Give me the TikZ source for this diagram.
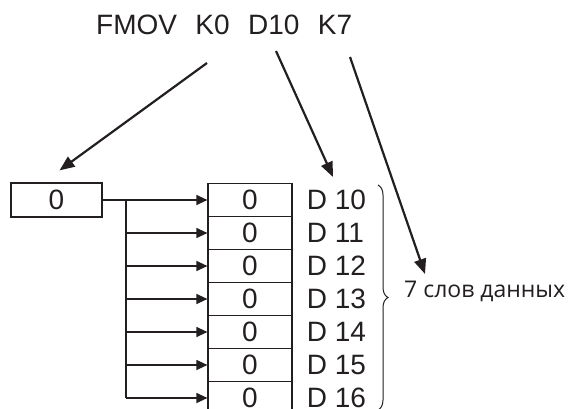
\documentclass[tikz,border=0pt]{standalone}
\usepackage{fontspec}
\setmainfont{Liberation Sans}
\newfontfamily\wordsfont{Open Sans}
\usetikzlibrary{positioning,calc,arrows.meta,decorations.pathreplacing}

\definecolor{ink}{HTML}{231F20}

\begin{document}
\begin{tikzpicture}[
  x=1pt, y=-1pt,
  every node/.style={text=ink, inner sep=0pt},
  big/.style={font=\fontsize{28}{28}\selectfont},
  cell/.style={draw=ink, line width=1.2pt, minimum width=84pt, minimum height=33pt, big},
  pointer/.style={draw=ink, line width=2.2pt, -{Triangle[length=15pt,width=12pt]}},
  feed/.style={draw=ink, line width=1.2pt, -{Triangle[length=11pt,width=10pt]}},
]
  \clip (0,0) rectangle (575,409);

  % instruction
  \node[big, anchor=west] (fmov) at (96,25) {FMOV};
  \node[big, right=18pt of fmov] (k0) {K0};
  \node[big, right=18pt of k0] (d10) {D10};
  \node[big, right=18pt of d10] (k7) {K7};

  % source word
  \node[cell, minimum width=91pt, minimum height=34pt] (src) at (56.5,200) {0};

  % destination words
  \foreach \i in {0,...,6} {
    \node[cell] (c\i) at (250,200+33*\i) {0};
    \node[big, right=14pt of c\i] (d\i) {D 1\i};
  }

  % distribution bus
  \coordinate (bus) at (126,200);
  \draw[ink, line width=1.2pt] (bus) -- (bus |- c6.west);
  \draw[feed] (src.east) -- (c0.west);
  \foreach \i in {1,...,6}
    \draw[feed] (bus |- c\i.west) -- (c\i.west);

  % brace and note
  \draw[ink, line width=1pt, decorate, decoration={brace, amplitude=10pt}]
    (378,185) -- (378,410);
  \node[anchor=west, font=\wordsfont\fontsize{23}{23}\selectfont] (note) at (404,291) {7 слов данных};

  % operand pointers
  \coordinate (k0tail) at (207,63);
  \coordinate (d10tail) at (276,51);
  \coordinate (k7tail) at (350,57);
  \draw[pointer] (k0tail) -- ($(src.north)+(3,-12)$);
  \draw[pointer] (d10tail) -- (333,177);
  \draw[pointer] (k7tail) -- (425,274);
\end{tikzpicture}
\end{document}
